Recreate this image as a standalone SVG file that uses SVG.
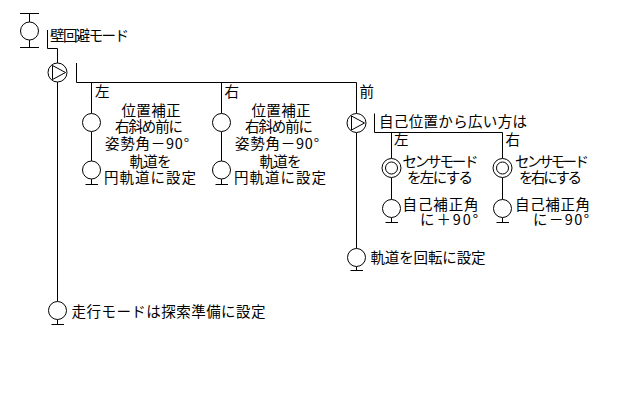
<svg xmlns="http://www.w3.org/2000/svg" width="640" height="400" viewBox="0 0 640 400">
<style>
.ln{stroke:#000;stroke-width:1;fill:none}
.nd{stroke:#000;stroke-width:1;fill:#fff}
.tx{font-family:"Noto Sans CJK JP","Noto Sans CJK SC",sans-serif;font-size:14.5px;fill:#000}
</style>
<defs>
<polygon id="tri" points="-5,-7 8,0 -5,7" fill="none" stroke="#000" stroke-width="1"/>
</defs>
<rect width="640" height="400" fill="#fff"/>
<g id="connectors" class="ln">
<path d="M29.5,13.5V22 M29.5,40V47.5"/>
<path d="M47.5,30V48.5H57.5V63"/>
<path d="M57.5,82V301.5 M57.5,319.5V324.5"/>
<path d="M76.5,63V82.5H356.5"/>
<path d="M91.5,82.5V113.5 M91.5,131.5V161 M91.5,179V184.5"/>
<path d="M221.5,82.5V113.5 M221.5,131.5V161 M221.5,179V184.5"/>
<path d="M356.5,82.5V113.5 M356.5,132.5V248.5 M356.5,266.5V270.5"/>
<path d="M374.5,113.5V132.5H502.5"/>
<path d="M391.5,132.5V158.5 M391.5,177.5V199.5 M391.5,217.5V222.5"/>
<path d="M502.5,132.5V158.5 M502.5,177.5V199.5 M502.5,217.5V222.5"/>
</g>
<g id="n-wall">
<line class="ln" x1="20" y1="13.5" x2="39" y2="13.5"/>
<line class="ln" x1="20" y1="47.5" x2="39" y2="47.5"/>
<circle class="nd" cx="29.5" cy="31" r="9"/>
<text class="tx" x="50" y="40.5" textLength="79">壁回避モード</text>
</g>
<g id="n-sel1">
<circle class="nd" cx="57.5" cy="72.5" r="9.5"/>
<use href="#tri" x="57.5" y="72.5"/>
</g>
<g id="lbl-branches">
<text class="tx" x="95" y="96.5">左</text>
<text class="tx" x="224.5" y="96.5">右</text>
<text class="tx" x="359.5" y="96.5">前</text>
</g>
<g id="n-left-a">
<circle class="nd" cx="91.5" cy="122.5" r="9"/>
<text class="tx" x="121.5" y="115.5" textLength="59">位置補正</text>
<text class="tx" x="115" y="132" textLength="68">右斜め前に</text>
<text class="tx" x="105" y="148.5" textLength="84">姿勢角－90°</text>
</g>
<g id="n-left-b">
<circle class="nd" cx="91.5" cy="170" r="9"/>
<line class="ln" x1="85.5" y1="184.5" x2="98" y2="184.5"/>
<text class="tx" x="129.5" y="167" textLength="42">軌道を</text>
<text class="tx" x="104" y="183" textLength="92">円軌道に設定</text>
</g>
<g id="n-right-a">
<circle class="nd" cx="221.5" cy="122.5" r="9"/>
<text class="tx" x="251.5" y="115.5" textLength="59">位置補正</text>
<text class="tx" x="245" y="132" textLength="68">右斜め前に</text>
<text class="tx" x="235" y="148.5" textLength="84">姿勢角－90°</text>
</g>
<g id="n-right-b">
<circle class="nd" cx="221.5" cy="170" r="9"/>
<line class="ln" x1="215.5" y1="184.5" x2="228" y2="184.5"/>
<text class="tx" x="259.5" y="167" textLength="42">軌道を</text>
<text class="tx" x="234" y="183" textLength="92">円軌道に設定</text>
</g>
<g id="n-sel2">
<circle class="nd" cx="356.5" cy="123" r="9.5"/>
<use href="#tri" x="356.5" y="123"/>
<text class="tx" x="379" y="127" textLength="148">自己位置から広い方は</text>
</g>
<g id="lbl-sub">
<text class="tx" x="394" y="144.5">左</text>
<text class="tx" x="505.5" y="144.5">右</text>
</g>
<g id="n-sub-left-a">
<circle class="nd" cx="391.5" cy="168" r="9.5"/>
<circle class="ln" cx="391.5" cy="168" r="6"/>
<text class="tx" x="402.5" y="167" textLength="76">センサモード</text>
<text class="tx" x="407" y="182.5" textLength="66">を左にする</text>
</g>
<g id="n-sub-left-b">
<circle class="nd" cx="391.5" cy="208.5" r="9"/>
<line class="ln" x1="385.5" y1="222.5" x2="398" y2="222.5"/>
<text class="tx" x="402.5" y="209.5" textLength="76">自己補正角</text>
<text class="tx" x="420" y="224.5" textLength="58">に＋90°</text>
</g>
<g id="n-sub-right-a">
<circle class="nd" cx="502.5" cy="168" r="9.5"/>
<circle class="ln" cx="502.5" cy="168" r="6"/>
<text class="tx" x="515" y="167" textLength="74">センサモード</text>
<text class="tx" x="519" y="182.5" textLength="63">を右にする</text>
</g>
<g id="n-sub-right-b">
<circle class="nd" cx="502.5" cy="208.5" r="9"/>
<line class="ln" x1="496.5" y1="222.5" x2="509" y2="222.5"/>
<text class="tx" x="515" y="209.5" textLength="75">自己補正角</text>
<text class="tx" x="533" y="224.5" textLength="56">に－90°</text>
</g>
<g id="n-rotate">
<circle class="nd" cx="356.5" cy="257.5" r="9"/>
<line class="ln" x1="350.5" y1="270.5" x2="363" y2="270.5"/>
<text class="tx" x="370.5" y="263" textLength="115">軌道を回転に設定</text>
</g>
<g id="n-run">
<circle class="nd" cx="57.5" cy="310.5" r="9"/>
<line class="ln" x1="51.5" y1="324.5" x2="64" y2="324.5"/>
<text class="tx" x="71.5" y="317" textLength="194">走行モードは探索準備に設定</text>
</g>
</svg>
